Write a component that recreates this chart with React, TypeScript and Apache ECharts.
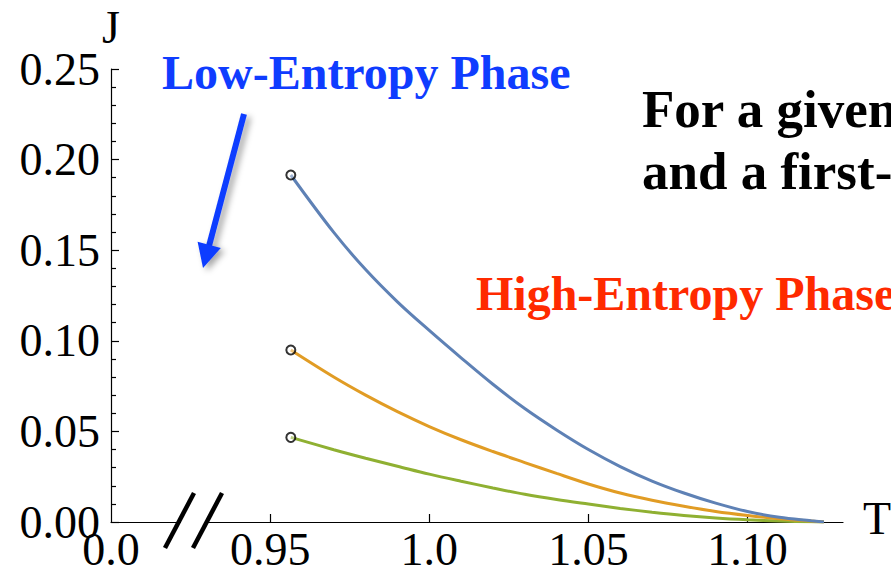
import React, { useEffect, useRef } from "react";
import * as echarts from "echarts";

const T_VALUES = [0.9565, 0.97, 0.98, 0.99, 1.0, 1.01, 1.02, 1.03, 1.04, 1.05, 1.06, 1.07, 1.08, 1.09, 1.1, 1.11, 1.12, 1.124];
const J_BLUE = [0.1915, 0.1598, 0.1393, 0.1215, 0.1057, 0.0906, 0.076, 0.0626, 0.0508, 0.04, 0.0306, 0.0226, 0.016, 0.0104, 0.0058, 0.0026, 0.0007, 0.0];
const J_ORANGE = [0.0949, 0.08, 0.07, 0.0609, 0.0527, 0.0454, 0.0389, 0.0328, 0.0268, 0.021, 0.016, 0.012, 0.0087, 0.0058, 0.0036, 0.0018, 0.0005, 0.0];
const J_GREEN = [0.0467, 0.0399, 0.0352, 0.0308, 0.0264, 0.0225, 0.0188, 0.0153, 0.0124, 0.0099, 0.0075, 0.0054, 0.0036, 0.0022, 0.0012, 0.0005, 0.0001, 0.0];

const X_TICK_VALUES = [0.95, 1.0, 1.05, 1.1];
const X_LABEL_VALUES = [0.9, 0.95, 1.0, 1.05, 1.1];
const X_LABEL_TEXTS = ["0.0", "0.95", "1.0", "1.05", "1.10"];

const COLORS = ["#5e81b5", "#e19c24", "#8fb032"];
const SERIF = '"Liberation Serif", "Times New Roman", serif';
const BLUE_TEXT = "#0f3cff";
const RED_TEXT = "#ff2a00";

function pairs(ys: number[]) {
  return T_VALUES.map((t, i) => [t, ys[i]]);
}

export default function App() {
  const ref = useRef<HTMLDivElement>(null);
  useEffect(() => {
    if (!ref.current) return;
    const chart = echarts.init(ref.current, null, { renderer: "svg" });
    const allSeries = [J_BLUE, J_ORANGE, J_GREEN];
    const lineSeries = allSeries.map((ys, i) => ({
      type: "line",
      data: pairs(ys),
      smooth: 0.35,
      symbol: "none",
      lineStyle: { color: COLORS[i], width: 3 },
      z: 5 - i,
    }));
    const starts = allSeries.map((ys) => [T_VALUES[0], ys[0]]);
    const tickLine = { color: "#000", width: 1.2 };
    const labelText = (v: number) => {
      const i = X_LABEL_VALUES.findIndex((x) => Math.abs(x - v) < 1e-6);
      return i >= 0 ? X_LABEL_TEXTS[i] : "";
    };
    const textStyle = (text: string, x: number, y: number, fill: string, bold: boolean, align = "left", size = 48) => ({
      type: "text",
      x,
      y,
      z: 100,
      style: {
        text,
        fill,
        font: `${bold ? "bold " : ""}${size}px ${SERIF}`,
        textAlign: align,
        textVerticalAlign: "middle",
      },
    });
    chart.setOption({
      animation: false,
      backgroundColor: "#ffffff",
      grid: { left: 111, right: 48, top: 69, bottom: 47, outerBoundsMode: "none", containLabel: false },
      xAxis: {
        type: "value",
        min: 0.9,
        max: 1.13,
        interval: 0.05,
        axisLine: { show: true, lineStyle: tickLine },
        axisTick: { show: true, inside: true, length: 8, lineStyle: tickLine, customValues: X_TICK_VALUES },
        minorTick: { show: false },
        splitLine: { show: false },
        axisLabel: {
          customValues: X_LABEL_VALUES,
          formatter: labelText,
          margin: 12,
          lineHeight: 30,
          color: "#000",
          fontSize: 46,
          fontFamily: SERIF,
        },
      },
      yAxis: {
        type: "value",
        min: 0,
        max: 0.25,
        interval: 0.05,
        axisLine: { show: true, lineStyle: tickLine },
        axisTick: { show: true, inside: true, length: 8, lineStyle: tickLine },
        minorTick: { show: true, splitNumber: 5, length: 5, lineStyle: tickLine },
        splitLine: { show: false },
        axisLabel: {
          formatter: (v: number) => v.toFixed(2),
          margin: 11,
          lineHeight: 34,
          padding: [0, 0, 6, 0],
          color: "#000",
          fontSize: 46,
          fontFamily: SERIF,
        },
      },
      series: [
        ...lineSeries,
        {
          type: "scatter",
          data: starts,
          symbol: "circle",
          symbolSize: 9,
          itemStyle: { color: "rgba(255,255,255,0.5)", borderColor: "#000", borderWidth: 2 },
          z: 10,
        },
      ],
      graphic: [
        textStyle("J", 111, 27, "#000", false, "center", 46),
        textStyle("T", 863, 518, "#000", false, "left", 46),
        textStyle("Low-Entropy Phase", 162, 72, BLUE_TEXT, true),
        textStyle("High-Entropy Phase", 476, 293, RED_TEXT, true),
        textStyle("For a given", 642, 109, "#000", true, "left", 53),
        textStyle("and a first-", 642, 171, "#000", true, "left", 53),
        {
          type: "polyline",
          z: 100,
          shape: { points: [[244, 114], [209, 246]] },
          style: {
            stroke: BLUE_TEXT,
            lineWidth: 6,
            shadowBlur: 6,
            shadowColor: "rgba(0,0,0,0.35)",
            shadowOffsetX: 4,
            shadowOffsetY: 3,
          },
        },
        {
          type: "polygon",
          z: 100,
          shape: { points: [[197.6, 241.7], [220.8, 247.9], [203, 268]] },
          style: {
            fill: BLUE_TEXT,
            shadowBlur: 6,
            shadowColor: "rgba(0,0,0,0.35)",
            shadowOffsetX: 4,
            shadowOffsetY: 3,
          },
        },
        {
          type: "rect",
          z: 100,
          shape: { x: 181, y: 519, width: 24, height: 5 },
          style: { fill: "#ffffff" },
        },
        {
          type: "line",
          z: 101,
          shape: { x1: 165, y1: 548, x2: 194, y2: 493 },
          style: { stroke: "#000", lineWidth: 4.5 },
        },
        {
          type: "line",
          z: 101,
          shape: { x1: 193, y1: 548, x2: 222, y2: 493 },
          style: { stroke: "#000", lineWidth: 4.5 },
        },
      ],
    });
    return () => chart.dispose();
  }, []);
  return <div ref={ref} style={{ position: "fixed", left: 0, top: 0, width: 891, height: 569 }} />;
}
